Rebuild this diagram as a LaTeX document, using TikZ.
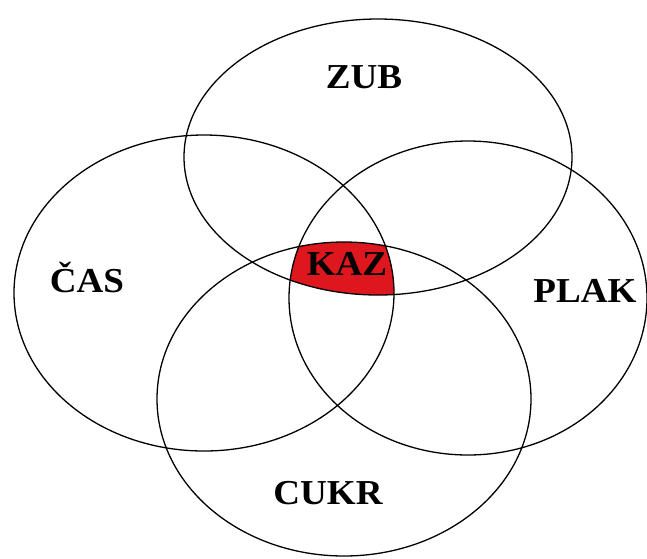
\documentclass[tikz,border=0pt]{standalone}
\usepackage{fontspec}
\setmainfont{Liberation Serif}
\definecolor{kazred}{RGB}{222,22,29}

\begin{document}
\begin{tikzpicture}[x=1pt, y=-1pt, line width=1.3pt,
			lbl/.style={font=\fontsize{35}{35}\selectfont\bfseries, anchor=base, inner sep=0pt, xscale=1.06, transform shape}]
			\useasboundingbox[fill=white] (0,0) rectangle (647,558);
			\begin{scope}
				\clip (378,157) ellipse [x radius=194, y radius=138];
				\clip (204,293) ellipse [x radius=190, y radius=158];
				\clip (468,298) ellipse [x radius=179, y radius=157];
				\fill[kazred] (344,399) ellipse [x radius=187, y radius=157];
			\end{scope}
			\foreach \cx/\cy/\rx/\ry in {378/157/194/138, 204/293/190/158, 468/298/179/157, 344/399/187/157}
				\draw (\cx,\cy) ellipse [x radius=\rx, y radius=\ry];
			\node[lbl] (zub) at (364,88) {ZUB};
			\node[lbl] (cas) at (87,292) {ČAS};
			\node[lbl] (plak) at (585,302) {PLAK};
			\node[lbl] (cukr) at (328,504) {CUKR};
			\node[lbl] (kaz) at (347,275) {KAZ};
		\end{tikzpicture}
\end{document}
